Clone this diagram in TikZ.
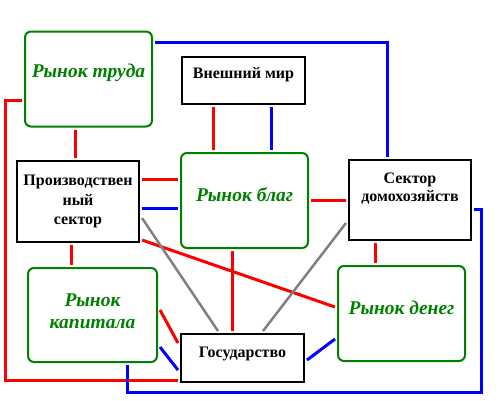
\documentclass[tikz,border=0pt]{standalone}
\usepackage{fontspec}
\setmainfont{Liberation Serif}

\definecolor{mktgreen}{RGB}{0,128,0}
\definecolor{govgray}{RGB}{128,128,128}

\begin{document}
\begin{tikzpicture}
  [x=1pt, y=-1pt,
   every node/.style={line width=2pt, outer sep=3pt, align=center},
   mkt/.style={draw=mktgreen, rounded corners=6pt, minimum width=127pt, minimum height=95pt,
     text=mktgreen, font=\fontsize{19.5}{22}\selectfont\bfseries\itshape},
   sect/.style={draw, minimum width=122pt, minimum height=81pt,
     font=\fontsize{16}{19.5}\selectfont\bfseries},
   realflow/.style={draw=red, line width=3pt},
   moneyflow/.style={draw=blue, line width=3pt},
   govflow/.style={draw=govgray, line width=2.5pt}]
  \useasboundingbox (0,0) rectangle (500,400);

  \node[mkt, text depth=17pt] (trud) at (88.5,79) {Рынок труда};
  \node[sect, minimum width=123pt, minimum height=47pt, text depth=16pt] (mir) at (243.5,80.5) {Внешний мир};
  \node[sect] (prod) at (78,201.5) {Производствен\\ный\\сектор};
  \node[mkt, text depth=11pt] (blag) at (244.5,200.5) {Рынок благ};
  \node[sect, minimum height=80pt, text depth=25pt, font=\fontsize{16}{18}\selectfont\bfseries] (dom) at (410,200) {Сектор\\домохозяйств};
  \node[mkt, minimum width=129pt, minimum height=94pt, text depth=8pt] (kap) at (92.5,315) {Рынок\\капитала};
  \node[mkt, text depth=11pt] (den) at (401.5,313.5) {Рынок денег};
  \node[sect, minimum width=123pt, minimum height=48pt, text depth=12pt] (gos) at (242.5,358) {Государство};

  \coordinate (corner) at (481,392);

  % red lines
  \draw[realflow] ([xshift=-13.5]trud.south) -- ([xshift=-13.5]trud.south |- prod.north);
  \draw[realflow] ([xshift=-30.5]mir.south) -- ([xshift=-30.5]mir.south |- blag.north);
  \draw[realflow] ([yshift=22.5]prod.east) -- ([yshift=22.5]prod.east -| blag.west);
  \draw[realflow] (blag.east) -- (blag.east -| dom.west);
  \draw[realflow] ([xshift=-12]blag.south) -- ([xshift=-12]blag.south |- gos.north);
  \draw[realflow] ([xshift=-35]dom.south) -- ([xshift=-35]dom.south |- den.north);
  \draw[realflow] ([xshift=-7]prod.south) -- ([xshift=-7]prod.south |- kap.north);
  \draw[realflow] ([yshift=5]prod.south east) -- ([yshift=6.5]den.west);
  \draw[realflow] ([yshift=5]kap.east) -- ([yshift=-12]gos.north west);
  \draw[realflow] ([yshift=-21]trud.west) -- ++(-17,0) |- ([yshift=-22]gos.west);

  % blue lines
  \draw[moneyflow] ([yshift=37]trud.east) -| ([xshift=-23]dom.north);
  \draw[moneyflow] ([xshift=27.5]mir.south) -- ([xshift=27.5]mir.south |- blag.north);
  \draw[moneyflow] ([yshift=-6.5]prod.east) -- ([yshift=-6.5]prod.east -| blag.west);
  \draw[moneyflow] ([yshift=-9]dom.east) -| (corner) -| ([xshift=34.5]kap.south);
  \draw[moneyflow] ([yshift=-32]kap.east) -- ([yshift=-12]gos.west);
  \draw[moneyflow] ([yshift=-2]gos.east) -- ([yshift=-25.5]den.west);

  % gray lines
  \draw[govflow] ([yshift=-16.5]prod.east) -- ([xshift=-24.5]gos.north);
  \draw[govflow] ([yshift=-23]dom.west) -- ([xshift=20.5]gos.north);
\end{tikzpicture}
\end{document}
